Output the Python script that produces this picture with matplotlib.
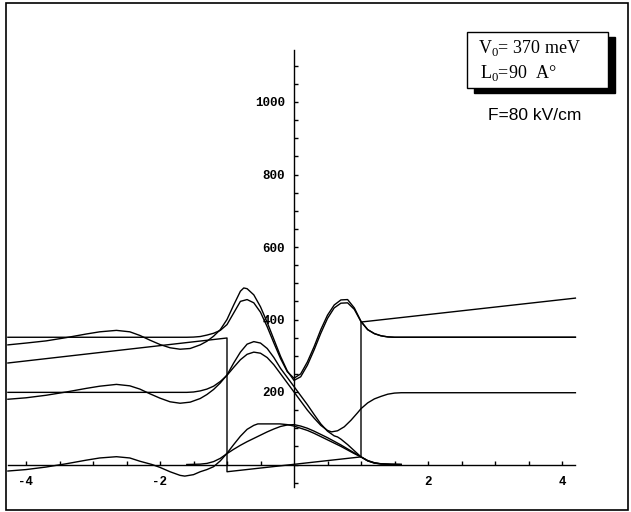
from __future__ import annotations

import matplotlib

matplotlib.use("Agg")

import matplotlib.pyplot as plt
from matplotlib.patches import Rectangle
from matplotlib.ticker import FixedLocator

# potential profile under field (meV), x in units of half well width
potential_x = [-4.27, -1.0, -1.0, 1.0, 1.0, 4.2]
potential_y = [280, 349, -20, 21, 393, 459]

# third level, no field
u3_x = [-4.27, -1.6, -1.5, -1.4, -1.3, -1.2, -1.1, -1.0, -0.9, -0.8, -0.7, -0.6,
        -0.5, -0.4, -0.3, -0.2, -0.1, 0.0, 0.1, 0.2, 0.3, 0.4, 0.5, 0.6, 0.7,
        0.8, 0.9, 1.0, 1.1, 1.2, 1.3, 1.4, 1.5, 4.2]
u3_y = [351, 351, 351.5, 353, 357, 362, 370, 386, 418, 450, 455, 446,
        420, 380, 335, 292, 256, 238, 250, 283, 325, 372, 412, 440, 454,
        455, 432, 395, 372, 361, 355, 352, 351, 351]

# third level, with field
b3_x = [-4.27, -4.0, -3.7, -3.4, -3.1, -2.9, -2.65, -2.45, -2.3, -2.15, -2.0,
        -1.85, -1.7, -1.55, -1.4, -1.3, -1.2, -1.1, -1.0, -0.9, -0.8, -0.75,
        -0.7, -0.6, -0.5, -0.4, -0.3, -0.2, -0.1, 0.0, 0.1, 0.2, 0.3, 0.4,
        0.5, 0.6, 0.7, 0.8, 0.9, 1.0, 1.1, 1.2, 1.3, 1.4, 1.5, 4.2]
b3_y = [330, 335, 341, 350, 360, 366, 370, 366, 356, 343, 331,
        322, 318, 320, 330, 340, 354, 372, 400, 440, 478, 487,
        485, 468, 435, 392, 345, 298, 258, 232, 242, 274, 316, 362,
        403, 432, 445, 446, 428, 394, 372, 361, 355, 352, 351, 351]

# second level, no field
u2_x = [-4.27, -1.6, -1.5, -1.4, -1.3, -1.2, -1.1, -1.0, -0.9, -0.8, -0.7, -0.6,
        -0.5, -0.4, -0.3, -0.2, -0.1, 0.0, 0.1, 0.2, 0.3, 0.4, 0.5, 0.56,
        0.65, 0.75, 0.85, 0.95, 1.0, 1.1, 1.2, 1.3, 1.4, 1.5, 1.6, 4.2]
u2_y = [199, 199, 200, 203, 208, 216, 229, 246, 268, 289, 304, 310,
        307, 295, 275, 250, 225, 200, 175, 150, 128, 108, 94, 90,
        93, 104, 122, 143, 154, 170, 181, 188, 194, 197, 198, 198]

# second level, with field
b2_x = [-4.27, -4.0, -3.7, -3.4, -3.1, -2.9, -2.65, -2.45, -2.3, -2.15, -2.0,
        -1.85, -1.7, -1.55, -1.4, -1.3, -1.2, -1.1, -1.0, -0.9, -0.8, -0.7,
        -0.6, -0.5, -0.4, -0.3, -0.2, -0.1, 0.0, 0.1, 0.2, 0.3, 0.4, 0.5,
        0.6, 0.65, 0.7, 0.8, 0.9, 1.0, 1.1, 1.2, 1.3, 1.45, 1.6]
b2_y = [180, 184, 191, 200, 210, 216, 221, 217, 208, 195, 183,
        173, 169, 172, 182, 193, 207, 225, 247, 280, 310, 332,
        339, 335, 320, 295, 265, 240, 215, 190, 165, 138, 112, 92,
        79, 76, 70, 55, 38, 21, 10, 4, 1.5, 0.5, 0]

# ground level, no field
u1_x = [-1.6, -1.4, -1.3, -1.2, -1.1, -1.0, -0.9, -0.8, -0.7, -0.6, -0.5, -0.4,
        -0.3, -0.2, -0.1, 0.0, 0.1, 0.2, 0.3, 0.4, 0.5, 0.6, 0.7, 0.8, 0.9,
        1.0, 1.1, 1.2, 1.3, 1.45, 1.6]
u1_y = [0, 1, 3, 8, 17, 30, 42, 53, 63, 72, 81, 90,
        98, 105, 109, 110, 106, 100, 92, 83, 74, 64, 54, 43, 32,
        21, 11, 5, 2, 0.5, 0]

# ground level, with field
b1_x = [-4.27, -4.0, -3.7, -3.57, -3.4, -3.1, -2.9, -2.65, -2.45, -2.3, -2.12,
        -2.0, -1.85, -1.7, -1.63, -1.5, -1.4, -1.3, -1.2, -1.1, -1.0, -0.9,
        -0.8, -0.7, -0.6, -0.54, -0.4, -0.21, -0.1, 0.0, 0.1, 0.2, 0.3, 0.4,
        0.5, 0.6, 0.7, 0.8, 0.9, 1.0, 1.1, 1.2, 1.3, 1.45, 1.6]
b1_y = [-18, -14, -7, -3, 2, 12, 18, 21.5, 18, 9, 0,
        -8, -20, -30, -32, -28, -20, -14, -6, 10, 31, 55,
        78, 97, 108, 112, 112, 112, 110, 106, 100, 94, 86, 77,
        68, 59, 50, 40, 30, 21, 10, 4, 1.5, 0.5, 0]

curves = [
    (potential_x, potential_y),
    (u3_x, u3_y),
    (b3_x, b3_y),
    (u2_x, u2_y),
    (b2_x, b2_y),
    (u1_x, u1_y),
    (b1_x, b1_y),
]

x_labels = [-4, -2, 2, 4]
x_minor = [-4.0, -3.5, -3.0, -2.5, -2.0, -1.5, -1.0, -0.5, 0.5, 1.0, 1.5, 2.0,
           2.5, 3.0, 3.5, 4.0]
y_labels = [200, 400, 600, 800, 1000]
y_minor = list(range(-50, 1101, 50))

W, H = 631, 512
X0_PX, X_SCALE = 294.0, 67.0      # pixel of x=0, pixels per unit
Y0_PX, Y_SCALE = 464.5, 0.3625    # pixel of y=0, pixels per meV


def px_to_fig(x, y):
    return x / W, 1 - y / H


def main() -> None:
    plt.rcParams["axes.unicode_minus"] = False
    plt.rcParams["mathtext.fontset"] = "custom"
    plt.rcParams["mathtext.rm"] = "Liberation Serif"

    fig = plt.figure(figsize=(W / 100, H / 100), dpi=100)
    ax = fig.add_axes([0, 0, 1, 1])
    ax.set_xlim(-X0_PX / X_SCALE, (W - X0_PX) / X_SCALE)
    ax.set_ylim((Y0_PX - H) / Y_SCALE, Y0_PX / Y_SCALE)
    ax.set_axisbelow(True)

    for xs, ys in curves:
        ax.plot(xs, ys, color="black", linewidth=1.0, zorder=3)

    # Mathematica-style axes through the origin
    for side in ("top", "right"):
        ax.spines[side].set_visible(False)
    ax.spines["left"].set_position(("data", 0))
    ax.spines["bottom"].set_position(("data", 0))
    ax.spines["left"].set_bounds(-62, 1143)
    ax.spines["bottom"].set_bounds(-4.27, 4.2)
    for sp in ("left", "bottom"):
        ax.spines[sp].set_linewidth(1.0)

    ax.xaxis.set_major_locator(FixedLocator(x_labels))
    ax.xaxis.set_minor_locator(FixedLocator(x_minor))
    ax.yaxis.set_major_locator(FixedLocator(y_labels))
    ax.yaxis.set_minor_locator(FixedLocator(y_minor))
    ax.tick_params(which="both", direction="in", width=1.0, length=3)
    ax.tick_params(axis="x", which="major", pad=8)
    ax.tick_params(axis="y", which="major", pad=6.5)
    for lab in ax.get_xticklabels() + ax.get_yticklabels():
        lab.set_fontfamily("Liberation Mono")
        lab.set_fontweight("bold")
        lab.set_fontsize(9)

    # outer frame
    fx0, fy1 = px_to_fig(6, 3)
    fx1, fy0 = px_to_fig(628, 510)
    fig.patches.append(Rectangle((fx0, fy0), fx1 - fx0, fy1 - fy0, transform=fig.transFigure,
                                 fill=False, edgecolor="black", linewidth=1.2))

    # parameter box with drop shadow
    bx0, by1 = px_to_fig(467, 32)
    bx1, by0 = px_to_fig(608, 88)
    sx, sy = 7 / W, 5 / H
    fig.patches.append(Rectangle((bx0 + sx, by0 - sy), bx1 - bx0, by1 - by0,
                                 transform=fig.transFigure, facecolor="black",
                                 edgecolor="black", zorder=4))
    fig.patches.append(Rectangle((bx0, by0), bx1 - bx0, by1 - by0,
                                 transform=fig.transFigure, facecolor="white",
                                 edgecolor="black", linewidth=1.0, zorder=5))

    tx, ty = px_to_fig(478, 53)
    fig.text(tx, ty, r"V$_{0}$= 370 meV", family="Liberation Serif", fontsize=13,
             va="baseline", zorder=6)
    tx, ty = px_to_fig(480, 78)
    fig.text(tx, ty, r"L$_{0}$=90  A°", family="Liberation Serif", fontsize=13,
             va="baseline", zorder=6)
    tx, ty = px_to_fig(535, 120)
    fig.text(tx, ty, "F=80 kV/cm", family="Liberation Sans", fontsize=12.5,
             ha="center", va="baseline")

    fig.savefig("out.png", dpi=100, facecolor="white")
    plt.close(fig)


if __name__ == "__main__":
    main()
